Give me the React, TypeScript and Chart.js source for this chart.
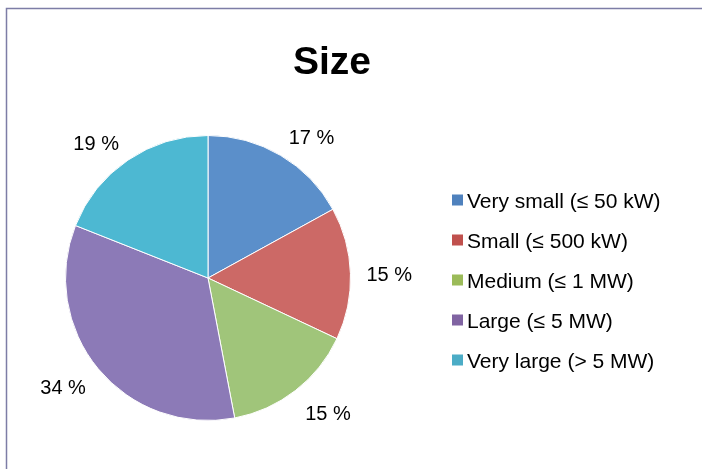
import React, { useEffect, useRef } from "react";
import { Chart, registerables } from "chart.js";

Chart.register(...registerables);

const titleText = "Size";
const categories = [
  "Very small (≤ 50 kW)",
  "Small (≤ 500 kW)",
  "Medium (≤ 1 MW)",
  "Large (≤ 5 MW)",
  "Very large (> 5 MW)",
];
const shares = [17, 15, 15, 34, 19];
const sliceColors = ["#5B8FCA", "#CC6966", "#A0C57A", "#8C7AB7", "#4DB8D2"];
const legendSwatchColors = ["#4F81BD", "#C0504D", "#9BBB59", "#8064A2", "#4BACC6"];

const FONT = '"Liberation Sans", Arial, sans-serif';

const decorPlugin = {
  id: "decor",
  beforeDraw(chart: any) {
    const ctx = chart.ctx;
    ctx.save();
    ctx.fillStyle = "#ffffff";
    ctx.fillRect(0, 0, chart.width, chart.height);
    ctx.strokeStyle = "#7d7da6";
    ctx.lineWidth = 1.5;
    ctx.beginPath();
    ctx.moveTo(6.5, chart.height + 5);
    ctx.lineTo(6.5, 8.5);
    ctx.lineTo(chart.width + 5, 8.5);
    ctx.stroke();
    ctx.restore();
  },
  afterDraw(chart: any) {
    const ctx = chart.ctx;
    ctx.save();
    // title
    ctx.fillStyle = "#000000";
    ctx.font = `bold 39px ${FONT}`;
    ctx.textAlign = "center";
    ctx.textBaseline = "alphabetic";
    ctx.fillText(titleText, 332, 74);

    // data labels outside end: anchor beyond the rim, text box placed outward
    const meta = chart.getDatasetMeta(0);
    const data = chart.data.datasets[0].data as number[];
    ctx.font = `20px ${FONT}`;
    ctx.textBaseline = "middle";
    meta.data.forEach((arc: any, i: number) => {
      const p = arc.getProps(["x", "y", "startAngle", "endAngle", "outerRadius"], true);
      const mid = (p.startAngle + p.endAngle) / 2;
      const dx = Math.cos(mid);
      const dy = Math.sin(mid);
      const d = p.outerRadius + 16;
      const ax = p.x + dx * d;
      const ay = p.y + dy * d;
      ctx.textAlign = dx >= 0 ? "left" : "right";
      const half = dy < 0 ? 7 : 10;
      ctx.fillText(`${data[i]} %`, ax, ay + dy * half + 3);
    });

    // legend
    const labels = chart.data.labels as string[];
    ctx.textAlign = "left";
    ctx.textBaseline = "alphabetic";
    ctx.font = `21px ${FONT}`;
    labels.forEach((lab, i) => {
      const cy = 200 + i * 40;
      ctx.fillStyle = legendSwatchColors[i];
      ctx.fillRect(452, cy - 5.5, 11, 11);
      ctx.fillStyle = "#000000";
      ctx.fillText(lab, 467, cy + 7.5);
    });
    ctx.restore();
  },
};

export default function App() {
  const ref = useRef<HTMLCanvasElement>(null);
  useEffect(() => {
    if (!ref.current) return;
    const chart = new Chart(ref.current, {
      type: "pie",
      data: {
        labels: categories,
        datasets: [
          {
            data: shares,
            backgroundColor: sliceColors,
            borderColor: "#ffffff",
            borderWidth: 1,
          },
        ],
      },
      options: {
        responsive: false,
        maintainAspectRatio: false,
        animation: false,
        devicePixelRatio: 1,
        layout: { padding: { left: 65, right: 351, top: 135, bottom: 48 } },
        plugins: {
          legend: { display: false },
          title: { display: false },
          tooltip: { enabled: false },
        },
      },
      plugins: [decorPlugin],
    });
    return () => chart.destroy();
  }, []);
  return (
    <div style={{ position: "absolute", left: 0, top: 0, width: 702, height: 469, background: "#fff" }}>
      <canvas ref={ref} width={702} height={469} style={{ display: "block", width: 702, height: 469 }} />
    </div>
  );
}
